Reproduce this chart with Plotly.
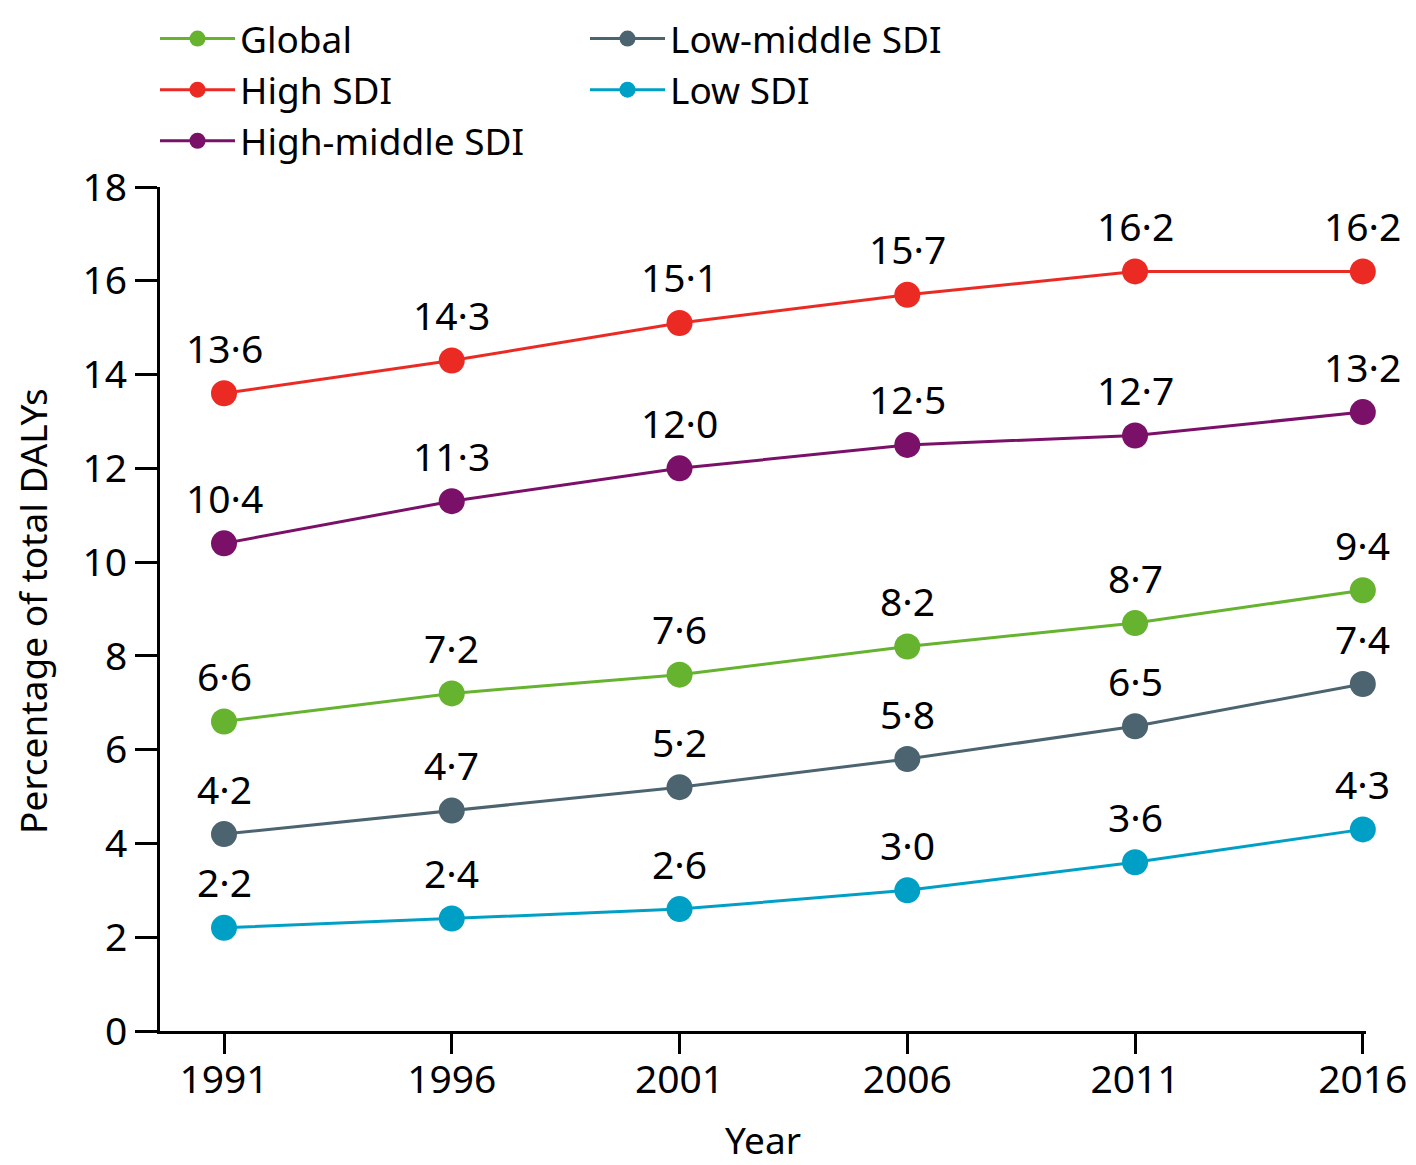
import plotly.graph_objects as go

years = [1991, 1996, 2001, 2006, 2011, 2016]
series_names = ["Global", "High SDI", "High-middle SDI", "Low-middle SDI", "Low SDI"]
global_vals = [6.6, 7.2, 7.6, 8.2, 8.7, 9.4]
high_vals = [13.6, 14.3, 15.1, 15.7, 16.2, 16.2]
high_middle_vals = [10.4, 11.3, 12.0, 12.5, 12.7, 13.2]
low_middle_vals = [4.2, 4.7, 5.2, 5.8, 6.5, 7.4]
low_vals = [2.2, 2.4, 2.6, 3.0, 3.6, 4.3]
y_ticks = [0, 2, 4, 6, 8, 10, 12, 14, 16, 18]

colors = ["#65b32e", "#ec2a24", "#7a1068", "#4b6470", "#00a0c6"]
all_vals = [global_vals, high_vals, high_middle_vals, low_middle_vals, low_vals]
legend_ids = ["legend", "legend", "legend", "legend2", "legend2"]

FONT = "Noto Sans"
NUM = 39
W, H = 1408, 1157
ML, MR, MT, MB = 152, 50, 179, 134
PW, PH = W - ML - MR, H - MT - MB
fig = go.Figure()
for name, vals, col, lg in zip(series_names, all_vals, colors, legend_ids):
    fig.add_trace(go.Scatter(
        x=years, y=vals, name=name, mode="lines+markers",
        line=dict(color=col, width=3),
        marker=dict(color=col, size=26),
        cliponaxis=False, legend=lg,
    ))
    for xv, yv in zip(years, vals):
        fig.add_annotation(x=xv, y=yv, text=f"{yv:.1f}".replace(".", "·"),
                           showarrow=False, yshift=46, xanchor="center", yanchor="middle",
                           font=dict(size=NUM, color="black", family=FONT))

# y-axis title
fig.add_annotation(xref="paper", yref="paper", x=(24 - ML) / PW, y=(H - MB - 603) / PH,
                   text="Percentage of total DALYs", textangle=-90, showarrow=False,
                   xanchor="center", yanchor="middle", font=dict(size=37, family=FONT, color="black"))

fig.update_layout(
    width=W, height=H,
    margin=dict(l=ML, r=MR, t=MT, b=MB, autoexpand=False),
    paper_bgcolor="white", plot_bgcolor="white",
    font=dict(family=FONT, size=36, color="black"),
    showlegend=True,
    legend=dict(xref="container", yref="container", x=147/W, y=1,
                xanchor="left", yanchor="top",
                font=dict(size=37, family=FONT), itemwidth=75, tracegroupgap=0,
                bgcolor="rgba(0,0,0,0)"),
    legend2=dict(xref="container", yref="container", x=577/W, y=1,
                 xanchor="left", yanchor="top",
                 font=dict(size=37, family=FONT), itemwidth=75, tracegroupgap=0,
                 bgcolor="rgba(0,0,0,0)"),
    xaxis=dict(range=[1989.595, 2016.07], tickvals=years, ticktext=[str(y) for y in years],
               showgrid=False, zeroline=False, showline=True, linecolor="black", linewidth=3,
               ticks="outside", ticklen=20, tickwidth=3, tickcolor="black",
               ticklabelstandoff=-8,
               title=dict(text="Year", standoff=32, font=dict(size=37)),
               tickfont=dict(size=NUM)),
    yaxis=dict(range=[0, 18], tickvals=y_ticks, showgrid=False, zeroline=False,
               showline=True, linecolor="black", linewidth=3,
               ticks="outside", ticklen=22, tickwidth=3, tickcolor="black",
               tickfont=dict(size=NUM)),
)
fig.write_html("out.html")
